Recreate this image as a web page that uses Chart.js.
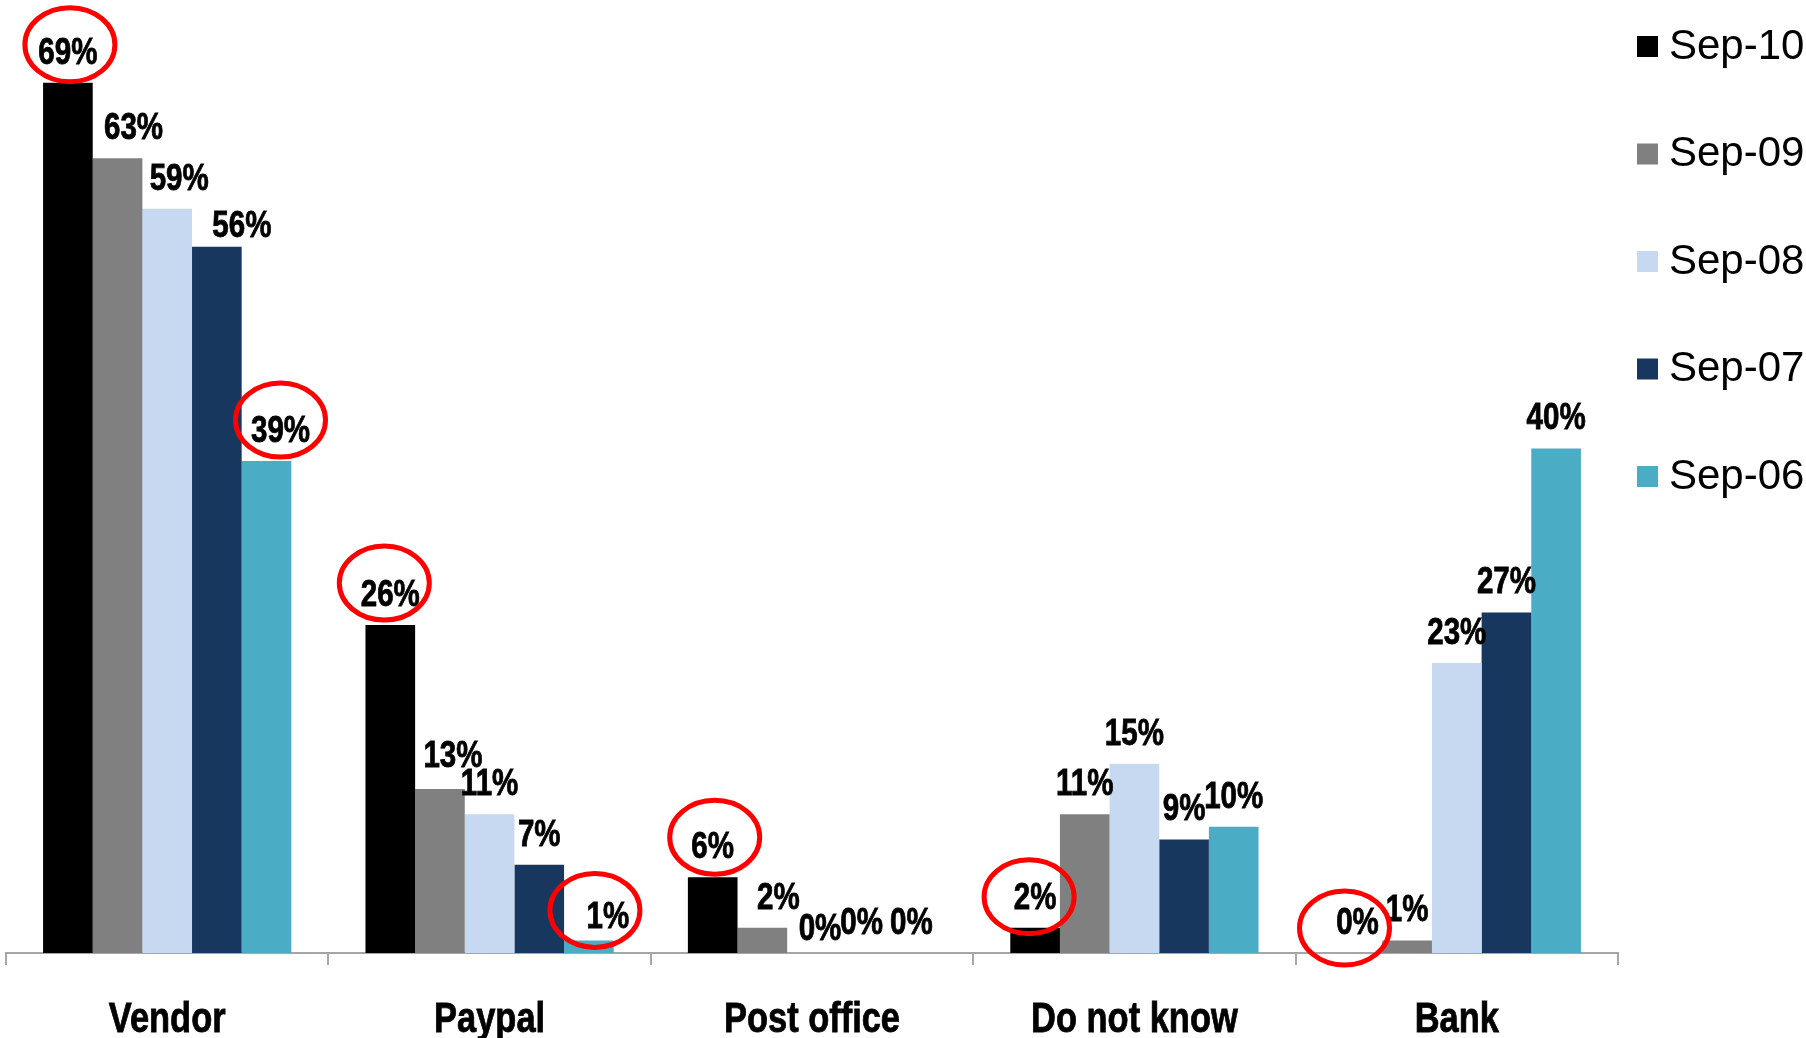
<!DOCTYPE html>
<html>
<head>
<meta charset="utf-8">
<script src="https://cdn.jsdelivr.net/npm/chart.js@4.4.1/dist/chart.umd.min.js"></script>
<style>
    html, body { margin: 0; padding: 0; background: #fff; }
    #wrap { width: 1806px; height: 1038px; }
</style>
</head>
<body>
<div id="wrap"><canvas id="payChart" width="1806" height="1038"></canvas></div>
<script>
// Categories and series values (percent)
const categories = ['Vendor', 'Paypal', 'Post office', 'Do not know', 'Bank'];
const seriesNames = ['Sep-10', 'Sep-09', 'Sep-08', 'Sep-07', 'Sep-06'];
const sep10 = [69, 26, 6, 2, 0];
const sep09 = [63, 13, 2, 11, 1];
const sep08 = [59, 11, 0, 15, 23];
const sep07 = [56, 7, 0, 9, 27];
const sep06 = [39, 1, 0, 10, 40];
const seriesColors = ['#000000', '#808080', '#c6d9f1', '#17375e', '#4bacc6'];

// labels that were dragged aside in the original: [category, series, dx, dy]
const labelNudges = [
    [0, 1, 16, 0], [0, 2, 12, 0], [0, 3, 25, 9], [0, 4, 14, 0],
    [1, 1, 13, -3], [1, 4, 19, 7],
    [2, 1, 16, 0], [2, 2, 8, 6]
];
// red rings drawn round some labels: [category, series, dx, dy]
const highlights = [
    [0, 0, 2, -6], [0, 4, 0, -9], [1, 0, -6, -10], [1, 4, -13, -5],
    [2, 0, 2, -8], [3, 0, -6, 1], [4, 0, -13, 7]
];

// no narrow font installed, so squeeze bold Liberation Sans sideways
const boldFont = 'bold {size}px "Liberation Sans", Arial, sans-serif';
const squeeze = 0.82;

function narrowText(ctx, text, x, y, size) {
    ctx.save();
    ctx.font = boldFont.replace('{size}', size);
    ctx.translate(x, y);
    ctx.scale(squeeze, 1);
    ctx.fillText(text, 0, 0);
    ctx.lineWidth = 0.8;
    ctx.strokeStyle = ctx.fillStyle;
    ctx.strokeText(text, 0, 0);
    ctx.restore();
}

const valueLabels = {
    id: 'valueLabels',
    afterDatasetsDraw(chart) {
        const ctx = chart.ctx;
        const nudge = {};
        labelNudges.forEach(n => { nudge[n[0] + '|' + n[1]] = [n[2], n[3]]; });
        const centers = {};
        ctx.save();
        ctx.fillStyle = '#000';
        ctx.textAlign = 'center';
        ctx.textBaseline = 'alphabetic';
        chart.data.datasets.forEach((ds, si) => {
            const meta = chart.getDatasetMeta(si);
            meta.data.forEach((bar, ci) => {
                const off = nudge[ci + '|' + si] || [0, 0];
                const x = bar.x + off[0];
                const y = bar.y - 19 + off[1];
                narrowText(ctx, ds.data[ci] + '%', x, y, 36);
                centers[ci + '|' + si] = [x, y - 13];
            });
        });

        // category names under the axis
        const xScale = chart.scales.x;
        categories.forEach((name, i) => {
            narrowText(ctx, name, xScale.getPixelForValue(i), 1032, 42);
        });

        // red ellipses
        ctx.strokeStyle = '#ff0000';
        ctx.lineWidth = 5;
        highlights.forEach(h => {
            const c = centers[h[0] + '|' + h[1]];
            if (!c) return;
            ctx.beginPath();
            ctx.ellipse(c[0] + h[2], c[1] + h[3], 45, 37, 0, 0, Math.PI * 2);
            ctx.stroke();
        });
        ctx.restore();
    }
};

const sideLegend = {
    id: 'sideLegend',
    afterDraw(chart) {
        const ctx = chart.ctx;
        ctx.save();
        ctx.font = '42px "Liberation Sans", Arial, sans-serif';
        ctx.textBaseline = 'middle';
        ctx.textAlign = 'left';
        chart.data.datasets.forEach((ds, i) => {
            const cy = 46 + i * 107.5;
            ctx.fillStyle = ds.backgroundColor;
            ctx.fillRect(1637, cy - 10, 21, 21);
            ctx.fillStyle = '#000';
            ctx.fillText(ds.label, 1669, cy + 1);
        });
        ctx.restore();
    }
};

const seriesData = [sep10, sep09, sep08, sep07, sep06];

new Chart(document.getElementById('payChart'), {
    type: 'bar',
    data: {
        labels: categories,
        datasets: seriesNames.map((name, i) => ({
            label: name,
            data: seriesData[i],
            backgroundColor: seriesColors[i],
            borderWidth: 0,
            categoryPercentage: 0.77,
            barPercentage: 1.0
        }))
    },
    options: {
        responsive: false,
        animation: false,
        layout: { padding: { top: 7, left: 6, right: 188, bottom: 0 } },
        plugins: {
            legend: { display: false },
            tooltip: { enabled: false }
        },
        scales: {
            x: {
                afterFit(scale) { scale.height = 85; },
                grid: {
                    display: true,
                    drawOnChartArea: false,
                    drawTicks: true,
                    tickLength: 12,
                    color: '#a6a6a6',
                    lineWidth: 2
                },
                border: { display: true, color: '#a6a6a6', width: 2 },
                ticks: {
                    color: 'rgba(0,0,0,0)',
                    maxRotation: 0,
                    font: { size: 42 }
                }
            },
            y: {
                display: false,
                min: 0,
                max: 75
            }
        }
    },
    plugins: [valueLabels, sideLegend]
});
</script>
</body>
</html>
